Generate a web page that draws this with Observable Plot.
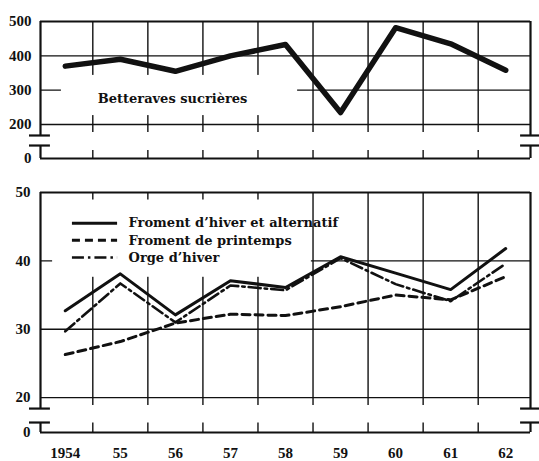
<!DOCTYPE html>
<html><head><meta charset="utf-8">
<script src="https://cdn.jsdelivr.net/npm/d3@7"></script>
<script src="https://cdn.jsdelivr.net/npm/@observablehq/plot@0.6"></script>
<style>
body{margin:0;background:#fff;}
#chart{width:539px;height:461px;position:relative;overflow:hidden;}
#chart svg{display:block;}
</style></head><body><div id="chart"></div>
<script>
// ---- data ----
const years = [1954, 1955, 1956, 1957, 1958, 1959, 1960, 1961, 1962];
const yearLabels = ["1954", "55", "56", "57", "58", "59", "60", "61", "62"];
const betteraves = [370, 390, 355, 400, 433, 235, 482, 435, 358];
const fromentHiver = [32.7, 38.1, 32.1, 37.1, 36.1, 40.6, 38.2, 35.8, 41.8];
const fromentPrintemps = [26.3, 28.2, 30.9, 32.2, 32.0, 33.3, 35.0, 34.3, 37.7];
const orgeHiver = [29.7, 36.7, 31.0, 36.4, 35.7, 40.4, 36.6, 34.1, 39.6];
const seriesNames = ["Froment d\u2019hiver et alternatif", "Froment de printemps", "Orge d\u2019hiver"];
const topLabel = "Betteraves sucrières";
const topTicks = [200, 300, 400, 500];
const bottomTicks = [20, 30, 40, 50];

// ---- layout helpers (broken axes: the "0" origin is drawn just below the break) ----
const X0 = 1953.55, X1 = 1962.45;
const topBase = 101, bottomBase = 14.9;
const ink = "#111";
const gridYears = years.slice(0, -1).map(y => y + 0.5);
const font = {fontFamily: "'Liberation Serif', serif", fontSize: "15px", fontWeight: "bold", color: ink, background: "white", overflow: "visible"};
const labelFont = "'DejaVu Serif', serif";
const GW = 1.4, FW = 2.2;

const topData = years.map((year, i) => ({year, value: betteraves[i]}));

const topPlot = Plot.plot({
  width: 539, height: 180,
  marginLeft: 40, marginRight: 9, marginTop: 21, marginBottom: 22,
  style: font,
  x: {domain: [X0, X1], axis: null},
  y: {domain: [topBase, 500], ticks: [topBase, ...topTicks], tickFormat: d => d === topBase ? "0" : String(d), tickSize: 0, tickPadding: 9, label: null},
  marks: [
    Plot.ruleY([400, 300, 200], {x1: X0, x2: X1, stroke: ink, strokeWidth: GW}),
    Plot.ruleX(gridYears, {y1: 176.7, y2: 500, stroke: ink, strokeWidth: GW}),
    Plot.ruleX(gridYears, {y1: topBase, y2: 124.3, stroke: ink, strokeWidth: GW}),
    Plot.rect([0], {x1: 1953.93, x2: 1958.22, y1: 226, y2: 343, fill: "white"}),
    Plot.ruleY([500, topBase], {x1: X0, x2: X1, stroke: ink, strokeWidth: FW}),
    Plot.ruleX([X0, X1], {y1: 168, y2: 500, stroke: ink, strokeWidth: FW}),
    Plot.ruleX([X0, X1], {y1: topBase, y2: 138.8, stroke: ink, strokeWidth: FW}),
    Plot.ruleY([168, 138.8], {x1: 1953.35, x2: 1953.73, stroke: ink, strokeWidth: FW}),
    Plot.ruleY([168, 138.8], {x1: 1962.27, x2: 1962.62, stroke: ink, strokeWidth: FW}),
    Plot.line(topData, {x: "year", y: "value", stroke: ink, strokeWidth: 5.5, strokeLinejoin: "round", strokeLinecap: "round"}),
    Plot.text([topLabel], {x: 1954.59, y: 276, text: d => d, textAnchor: "start", fontWeight: "bold", fontSize: 13, fontFamily: labelFont})
  ]
});

const series = [fromentHiver, fromentPrintemps, orgeHiver];
const styles = [
  {strokeWidth: 3, strokeDasharray: null},
  {strokeWidth: 3, strokeDasharray: "8,5"},
  {strokeWidth: 2.6, strokeDasharray: "12,4,2.5,4"}
];
const legendY = [45.5, 43.0, 40.5];

const seriesMarks = [];
series.forEach((vals, k) => {
  const data = years.map((year, i) => ({year, value: vals[i]}));
  const st = {stroke: ink, strokeWidth: styles[k].strokeWidth, strokeLinejoin: "round"};
  if (styles[k].strokeDasharray) st.strokeDasharray = styles[k].strokeDasharray;
  seriesMarks.push(Plot.line(data, {x: "year", y: "value", ...st}));
  seriesMarks.push(Plot.ruleY([legendY[k]], {x1: 1954.13, x2: 1954.95, ...st}));
  seriesMarks.push(Plot.text([seriesNames[k]], {x: 1955.15, y: legendY[k], text: d => d, textAnchor: "start", fontWeight: "bold", fontSize: 13, fontFamily: labelFont}));
});

const bottomPlot = Plot.plot({
  width: 539, height: 281,
  marginLeft: 40, marginRight: 9, marginTop: 12, marginBottom: 29,
  style: font,
  x: {domain: [X0, X1], ticks: years, tickFormat: d => yearLabels[years.indexOf(d)], tickSize: 0, tickPadding: 15, label: null},
  y: {domain: [bottomBase, 50], ticks: [bottomBase, ...bottomTicks], tickFormat: d => d === bottomBase ? "0" : String(d), tickSize: 0, tickPadding: 10, label: null},
  marks: [
    Plot.ruleY([40, 30, 20], {x1: X0, x2: X1, stroke: ink, strokeWidth: GW}),
    Plot.ruleX(gridYears, {y1: 18.84, y2: 50, stroke: ink, strokeWidth: GW}),
    Plot.ruleX(gridYears, {y1: bottomBase, y2: 16.3, stroke: ink, strokeWidth: GW}),
    Plot.rect([0], {x1: 1953.77, x2: 1958.47, y1: 37.6, y2: 48.9, fill: "white"}),
    Plot.ruleY([50, bottomBase], {x1: X0, x2: X1, stroke: ink, strokeWidth: FW}),
    Plot.ruleX([X0, X1], {y1: 18.4, y2: 50, stroke: ink, strokeWidth: FW}),
    Plot.ruleX([X0, X1], {y1: bottomBase, y2: 16.36, stroke: ink, strokeWidth: FW}),
    Plot.ruleY([18.4, 16.36], {x1: 1953.35, x2: 1953.73, stroke: ink, strokeWidth: FW}),
    Plot.ruleY([18.4, 16.36], {x1: 1962.27, x2: 1962.62, stroke: ink, strokeWidth: FW}),
    ...seriesMarks
  ]
});

const chart = document.getElementById("chart");
chart.appendChild(topPlot);
chart.appendChild(bottomPlot);
</script></body></html>
